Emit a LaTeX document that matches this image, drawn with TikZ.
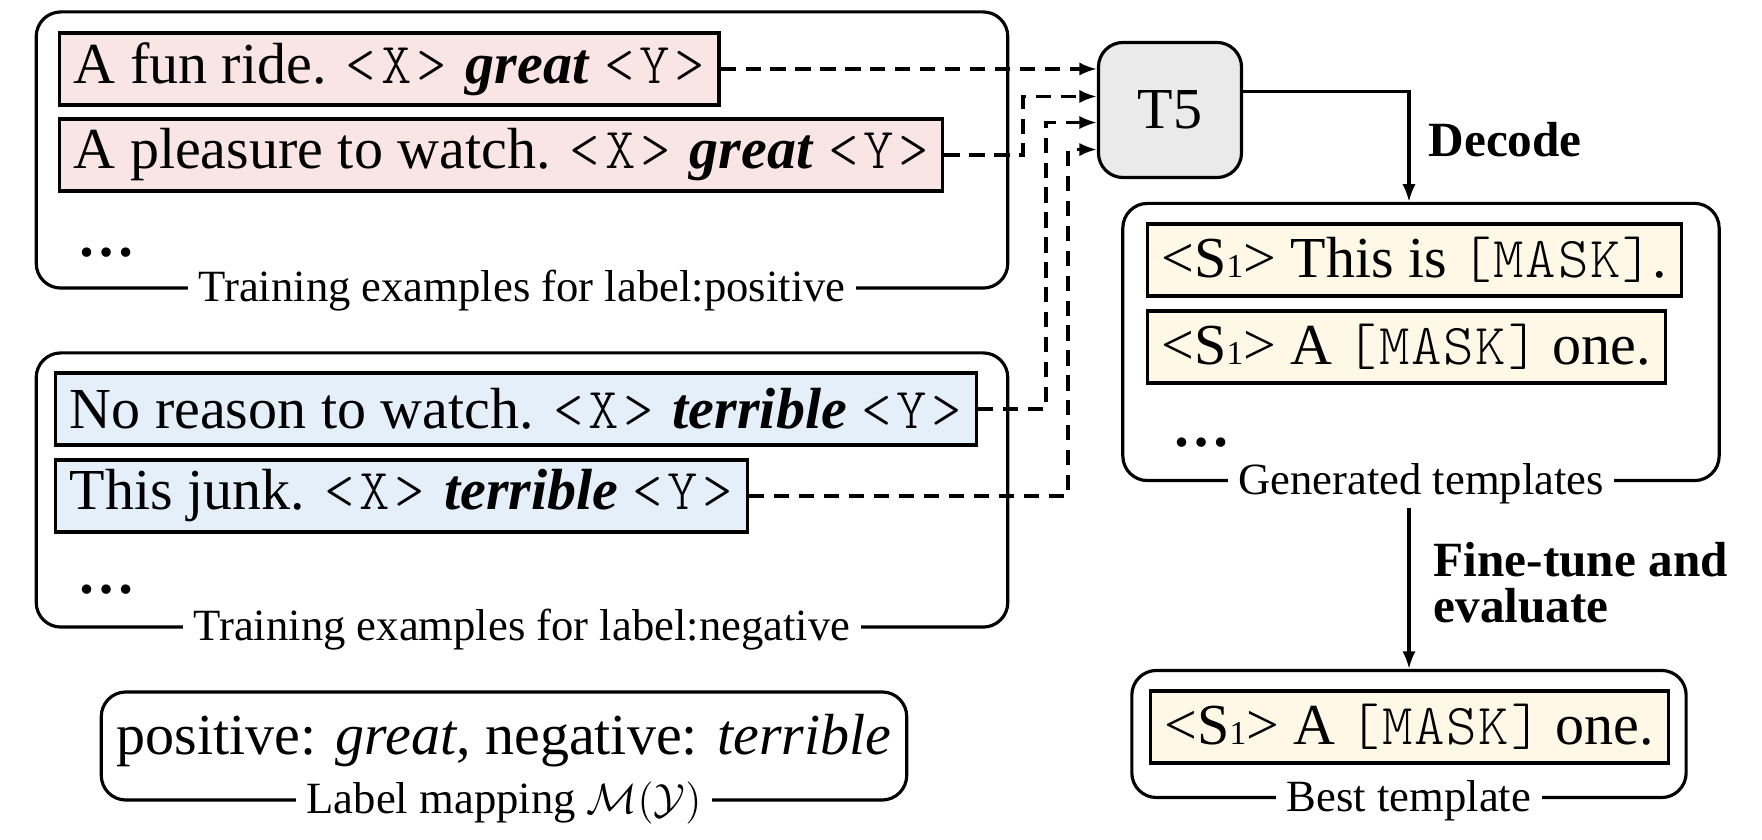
\documentclass[tikz,border=0pt]{standalone}
\usepackage{fontspec}
\setmainfont{Liberation Serif}
\setmonofont[LetterSpace=8]{lmmonolt10-regular.otf}
\usetikzlibrary{arrows.meta,positioning}

\definecolor{posfill}{RGB}{250,229,230}
\definecolor{negfill}{RGB}{229,239,249}
\definecolor{tplfill}{RGB}{255,248,231}
\definecolor{modelfill}{RGB}{234,234,234}

\newcommand{\slot}[1]{{\ttfamily<#1>}}
\newcommand{\masktok}{{\ttfamily\addfontfeature{LetterSpace=3}[MASK]}}
\newcommand{\sent}{<S{\fontsize{9.5}{10}\selectfont 1}>}
\newcommand{\mainsize}{\fontsize{16.5}{19}\selectfont}

\tikzset{
    group/.style={draw, line width=0.9pt, rounded corners=7pt},
    grouplabel/.style={fill=white, inner xsep=3pt, inner ysep=1pt, anchor=base, yshift=-0.12cm, font=\fontsize{12.7}{14}\selectfont},
    example/.style={draw, line width=0.9pt, fill=#1, anchor=west, minimum height=0.72cm, inner xsep=4pt, inner ysep=0pt, font=\mainsize},
    moredots/.style={anchor=base west, inner sep=0pt, font=\mainsize\bfseries},
    steplabel/.style={anchor=base west, align=left, inner sep=0pt, font=\fontsize{14}{13.1}\selectfont\bfseries},
    feed/.style={line width=0.9pt, dash pattern=on 4.3pt off 2.8pt, -{Latex[length=5pt,width=3.8pt]}},
    flow/.style={line width=0.9pt, -{Latex[length=5pt,width=3.8pt]}},
}

\begin{document}
\begin{tikzpicture}[x=0.01cm, y=-0.01cm]
    \useasboundingbox (0,0) rectangle (1762,840);

    % training examples
    \node[group, minimum width=9.71cm, minimum height=2.76cm] (posgroup) at (522,150) {};
    \node[example=posfill] (pos1) at (58,69) {A fun ride. \slot{X} \textbf{\textit{great}} \slot{Y}};
    \node[example=posfill] (pos2) at (58,155) {A pleasure to watch. \slot{X} \textbf{\textit{great}} \slot{Y}};
    \node[moredots] (posdots) at (77,257) {\dots};
    \node[grouplabel] (poslabel) at (posgroup.south) {Training examples for label:positive};

    \node[group, minimum width=9.71cm, minimum height=2.74cm] (neggroup) at (522,490) {};
    \node[example=negfill] (neg1) at (54,409) {No reason to watch. \slot{X} \textbf{\textit{terrible}} \slot{Y}};
    \node[example=negfill] (neg2) at (54,496) {This junk. \slot{X} \textbf{\textit{terrible}} \slot{Y}};
    \node[moredots] (negdots) at (77,594) {\dots};
    \node[grouplabel] (neglabel) at (neggroup.south) {Training examples for label:negative};

    % label mapping
    \node[group, minimum width=8.05cm, minimum height=1.08cm] (mapgroup) at (504,746) {};
    \node[anchor=base, inner sep=0pt, font=\mainsize] (maptext) at (504,755) {positive: \textit{great}, negative: \textit{terrible}};
    \node[grouplabel] (maplabel) at (mapgroup.south) {Label mapping $\mathcal{M}(\mathcal{Y})$};

    % model
    \node[draw, line width=0.9pt, fill=modelfill, rounded corners=7pt, minimum width=1.43cm, minimum height=1.35cm, font=\mainsize] (t5) at (1170,110) {T5};

    % templates
    \node[group, minimum width=5.96cm, minimum height=2.77cm] (gengroup) at (1421,342) {};
    \node[example=tplfill] (tpl1) at (1146,260) {\sent{} This is \masktok.};
    \node[example=tplfill] (tpl2) at (1146,347) {\sent{} A \masktok{} one.};
    \node[moredots] (gendots) at (1172,447) {\dots};
    \node[grouplabel] (genlabel) at (gengroup.south) {Generated templates};

    \node[group, minimum width=5.54cm, minimum height=1.27cm] (bestgroup) at (1409,734) {};
    \node[example=tplfill] (best) at (1149,727) {\sent{} A \masktok{} one.};
    \node[grouplabel] (bestlabel) at (bestgroup.south) {Best template};

    % connectors
    \coordinate (bend2) at (1023,0);
    \coordinate (bend3) at (1046,0);
    \coordinate (bend4) at (1068,0);
    \draw[feed] (pos1.east) -- (pos1.east -| t5.west);
    \draw[feed] (pos2.east) -- (pos2.east -| bend2) |- ([yshift=0.135cm]t5.west);
    \draw[feed] (neg1.east) -- (neg1.east -| bend3) |- ([yshift=-0.125cm]t5.west);
    \draw[feed] (neg2.east) -- (neg2.east -| bend4) |- ([yshift=-0.395cm]t5.west);

    \draw[flow] ([yshift=0.185cm]t5.east) -| (bestgroup.north |- gengroup.north);
    \node[steplabel] (decode) at (1428,157) {Decode};
    \draw[flow] (bestgroup.north |- genlabel.south) -- (bestgroup.north);
    \node[steplabel] (finetune) at (1433,623) {Fine-tune and\\evaluate};
\end{tikzpicture}
\end{document}
